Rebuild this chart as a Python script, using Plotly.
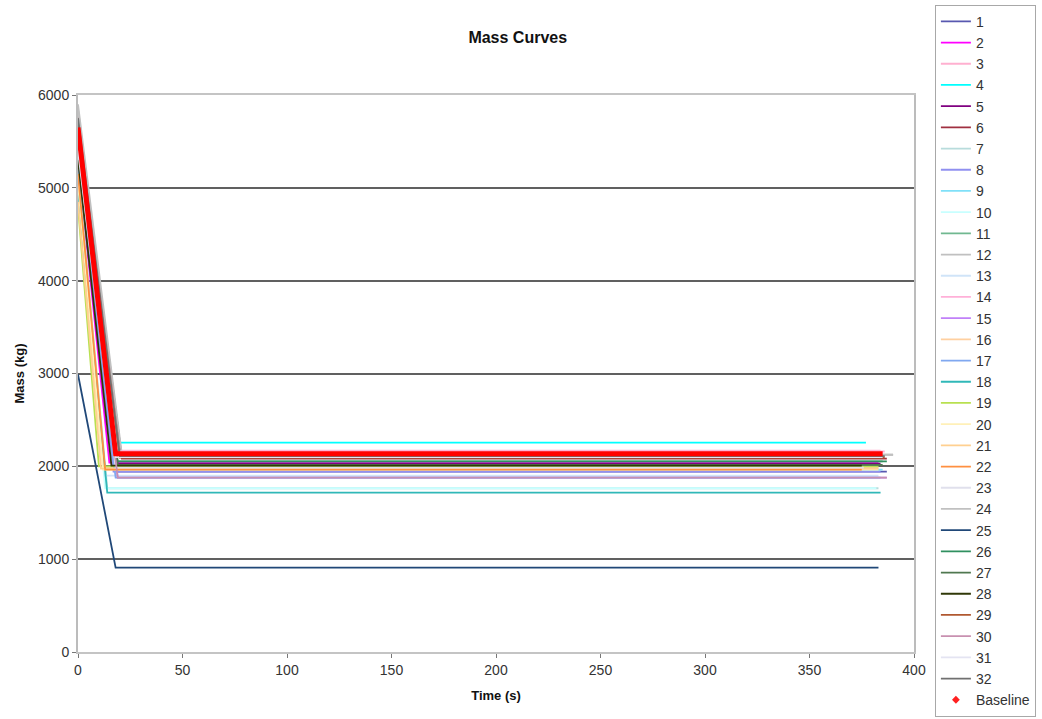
import plotly.graph_objects as go

# Run identifiers and per-run mass history (start mass, time at which the
# mass settles, settled mass, last recorded time)
series_names = [str(i) for i in range(1, 33)]
start_mass = [5500, 5300, 5400, 5750, 5600, 5800, 5200, 5350, 5700, 5100,
              5450, 5900, 5000, 5500, 5450, 4900, 5250, 4950, 4800, 5050,
              4850, 5150, 5600, 5850, 2990, 5550, 5650, 5300, 5700, 5500,
              5400, 5750]
settle_time = [19, 15, 18, 20, 19, 21, 14, 17, 19, 13,
               18, 21, 13, 17, 19, 12, 18, 14, 10, 12,
               11, 13, 18, 20, 18, 19, 19, 16, 20, 19,
               18, 20]
final_mass = [1943, 2040, 2170, 2255, 2030, 2083, 1764, 1943, 1965, 1764,
              2054, 2125, 1900, 2160, 1878, 1985, 1878, 1717, 2000, 1965,
              1975, 1965, 1986, 2125, 908, 2054, 2015, 2008, 2095, 1878,
              2100, 2110]
end_time = [387, 383, 384, 377, 384, 387, 383, 384, 385, 382,
            385, 390, 383, 386, 387, 383, 384, 384, 383, 383,
            383, 375, 376, 390, 383, 387, 385, 375, 386, 387,
            385, 386]
line_colors = ['#5858b0', '#ff00ff', '#ffb0d0', '#00ffff', '#800080', '#a03040',
               '#b8dcdc', '#9090f0', '#80e0f8', '#c8ffff', '#70b890', '#c0c0c0',
               '#d0e4f8', '#ffb0d8', '#c080f8', '#ffd0a0', '#80a8f0', '#30b8b8',
               '#b8e050', '#fff0b8', '#ffd090', '#ff9040', '#e0e0ec', '#c0c0c0',
               '#204878', '#309060', '#507850', '#303808', '#b05830', '#c890b0',
               '#e4e4f2', '#707070']

# Baseline run
baseline_time = [0, 18, 385]
baseline_mass = [5650, 2135, 2135]

FONT = "Arial, Liberation Sans, sans-serif"

fig = go.Figure()

for name, m0, ts, mf, te, col in zip(series_names, start_mass, settle_time,
                                     final_mass, end_time, line_colors):
    fig.add_trace(go.Scatter(
        x=[0, ts, te], y=[m0, mf, mf], mode="lines", name=name,
        line=dict(color=col, width=1.8),
    ))

# Baseline drawn on top as a heavy red trace; legend shows its marker
fig.add_trace(go.Scatter(
    x=baseline_time, y=baseline_mass, mode="lines", name="Baseline",
    line=dict(color="#ff0000", width=5), showlegend=False,
))
fig.add_trace(go.Scatter(
    x=[None], y=[None], mode="markers", name="Baseline",
    marker=dict(color="#ff2020", symbol="diamond", size=6),
))

fig.update_layout(
    width=1042, height=719,
    margin=dict(l=78, r=128, t=95, b=67, autoexpand=False),
    paper_bgcolor="white", plot_bgcolor="white",
    font=dict(family=FONT, size=14, color="#222222"),
    title=dict(text="<b>Mass Curves</b>", x=0.526, xref="paper",
               y=1 - 37 / 719, yanchor="middle", xanchor="center",
               font=dict(size=16, color="#111111")),
    showlegend=True,
    legend=dict(
        x=1.025, xanchor="left", y=1.162, yanchor="top",
        bgcolor="white", bordercolor="#a8a8a8", borderwidth=1,
        font=dict(size=14, color="#333333"), itemwidth=30,
        tracegroupgap=0, maxheight=716,
    ),
    xaxis=dict(
        range=[0, 400], dtick=50, tick0=0,
        showgrid=False, zeroline=False,
        showline=True, linecolor="#c4c4c4", linewidth=2, mirror=True,
        ticks="outside", ticklen=4, tickcolor="#777777",
        tickfont=dict(size=14, color="#333333"),
        title=dict(text="<b>Time (s)</b>", font=dict(size=13, color="#111111"),
                   standoff=14),
    ),
    yaxis=dict(
        range=[0, 6000], dtick=1000, tick0=0,
        showgrid=True, gridcolor="#606060", gridwidth=1.5,
        zeroline=False,
        showline=True, linecolor="#bcbcbc", linewidth=2, mirror=True,
        ticks="outside", ticklen=4, tickcolor="#777777",
        tickfont=dict(size=14, color="#333333"),
        title=dict(text="<b>Mass (kg)</b>", font=dict(size=13, color="#111111"),
                   standoff=10),
    ),
)

fig.write_html("out.html")
